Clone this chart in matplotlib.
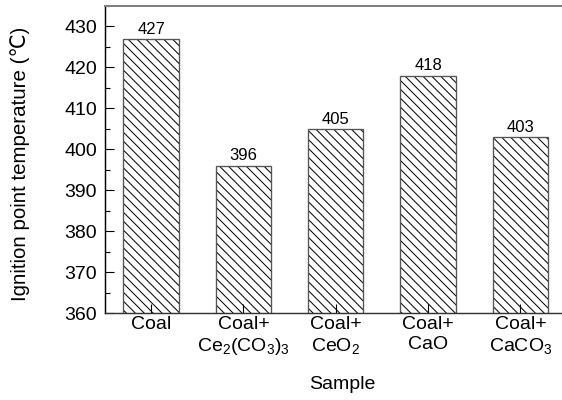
import numpy as np
import matplotlib
matplotlib.use('Agg')
import matplotlib.pyplot as plt
from matplotlib.ticker import MultipleLocator

matplotlib.rcParams['font.family'] = ['Liberation Sans', 'DejaVu Sans']
matplotlib.rcParams['mathtext.default'] = 'regular'
matplotlib.rcParams['hatch.linewidth'] = 0.9

samples = ['Coal',
           'Coal+\nCe$_2$(CO$_3$)$_3$',
           'Coal+\nCeO$_2$',
           'Coal+\nCaO',
           'Coal+\nCaCO$_3$']
ignition_temp = [427, 396, 405, 418, 403]

fig = plt.figure(figsize=(7.025, 5.0), dpi=80)
ax = fig.add_axes([0.1868, 0.2175, 0.8132, 0.7675])

x = np.arange(len(samples))
# hatch drawn in black, outline in grey on top
ax.bar(x, ignition_temp, width=0.6, color='white', edgecolor='black',
       linewidth=0, hatch='\\\\\\', zorder=1)
bars = ax.bar(x, ignition_temp, width=0.6, fill=False, edgecolor='#555555',
              linewidth=1.2, zorder=1.2)
ax.bar_label(bars, labels=[str(v) for v in ignition_temp], padding=2, fontsize=15)

ax.set_ylim(360, 435)
ax.set_xlim(-0.5, 4.45)
ax.yaxis.set_major_locator(MultipleLocator(10))
ax.yaxis.set_minor_locator(MultipleLocator(5))
ax.set_xticks(x)
ax.set_xticklabels(samples)

ax.tick_params(axis='both', which='major', direction='in', length=8, width=1,
               labelsize=17.5)
ax.tick_params(axis='y', which='major', pad=7)
ax.tick_params(axis='x', which='major', pad=3)
ax.tick_params(axis='y', which='minor', direction='in', length=4.5, width=1)

ax.spines['right'].set_visible(False)
ax.spines['top'].set_color('#808080')
ax.spines['top'].set_linewidth(1.8)
ax.spines['left'].set_linewidth(1.3)
ax.spines['bottom'].set_color('#333333')
ax.spines['bottom'].set_linewidth(1.3)

ax.set_ylabel('Ignition point temperature (\u2103)', fontsize=18.5)
ax.set_xlabel('Sample', fontsize=17.5)
ax.yaxis.set_label_coords(-0.164, 0.485)
ax.xaxis.set_label_coords(0.52, -0.205)

fig.savefig('out.png', dpi=80)
